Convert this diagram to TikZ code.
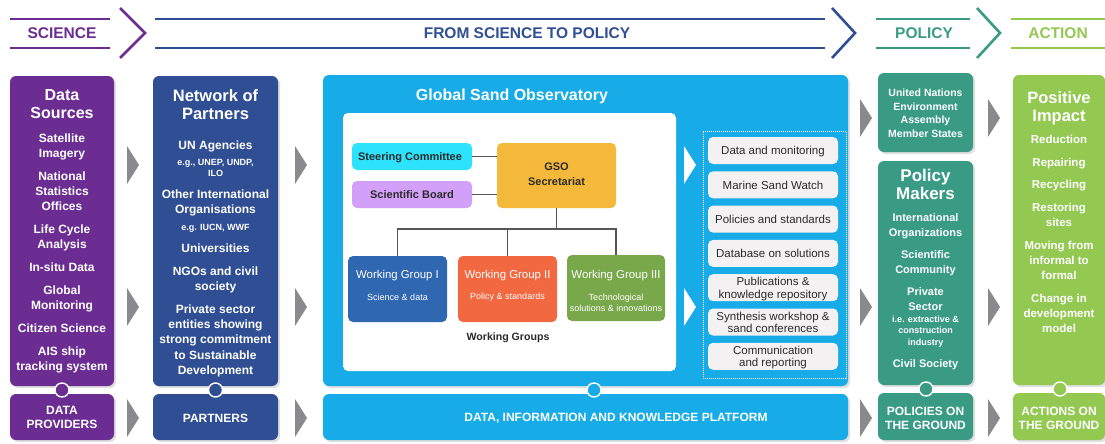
\documentclass[tikz,border=0pt]{standalone}
\usepackage{fontspec}
\setmainfont{Liberation Sans}
\usetikzlibrary{fit,shadows,positioning}

\definecolor{srcpurple}{HTML}{6B2D91}
\definecolor{netblue}{HTML}{2F4E93}
\definecolor{gsoblue}{HTML}{17ABE8}
\definecolor{polteal}{HTML}{3A9B85}
\definecolor{actgreen}{HTML}{93C851}
\definecolor{arrowgray}{HTML}{8A8A8D}
\definecolor{steercyan}{HTML}{2DE3FC}
\definecolor{boardlilac}{HTML}{D2A0F8}
\definecolor{secyellow}{HTML}{F4B93A}
\definecolor{wgone}{HTML}{2F67B1}
\definecolor{wgtwo}{HTML}{F26841}
\definecolor{wgthree}{HTML}{79A84B}
\definecolor{itemgray}{HTML}{F3F1F1}
\definecolor{linegray}{HTML}{555555}
\definecolor{darktext}{HTML}{2B2B2B}

\newcommand{\fsz}[2]{\fontsize{#1}{#2}\selectfont}

\tikzset{
  panel/.style={rounded corners=6pt, inner sep=0pt, fill=#1,
    drop shadow={shadow xshift=2pt, shadow yshift=-2pt, opacity=0.25}},
  ring/.style={circle, draw=white, line width=1.4pt, fill=#1, minimum size=14pt, inner sep=0pt},
  colhead/.style={anchor=north, inner sep=0pt, align=center, text=white, font=\bfseries\fsz{16.5}{18}},
  coltext/.style={anchor=north, inner sep=0pt, align=center, text=white, font=\bfseries\fsz{12}{15}},
  colsmall/.style={anchor=north, inner sep=0pt, align=center, text=white, font=\bfseries\fsz{9}{11}},
  baselabel/.style={anchor=north, inner sep=0pt, align=center, text=white, font=\bfseries\fsz{12}{14}},
  orgbox/.style={rounded corners=5pt, inner sep=0pt, fill=#1},
  orgtext/.style={anchor=north, inner sep=0pt, align=center, text=darktext, font=\bfseries\fsz{11}{15}},
  wgtitle/.style={inner sep=0pt, text=white, font=\fsz{11.4}{13}},
  wgsub/.style={inner sep=0pt, align=center, text=white, font=\fsz{9}{11}},
  itembox/.style={rounded corners=5pt, inner sep=0pt, fill=itemgray, minimum width=130pt, minimum height=27pt},
  itemtext/.style={anchor=north, inner sep=0pt, align=center, text=darktext, font=\fsz{11.5}{12.5}},
  headtext/.style={inner sep=0pt, text=#1, font=\bfseries\fsz{15.5}{18}},
  headline/.style={line width=2.6pt, draw=#1},
  orgline/.style={draw=linegray, line width=1.3pt}
}

\begin{document}
\begin{tikzpicture}[x=1pt, y=-1pt]
\useasboundingbox (0,0) rectangle (1105,444);
\fill[white] (0,0) rectangle (1105,444);

% header
\node (hsci) [headtext=srcpurple] at (62,33) {SCIENCE};
\node (hpath) [headtext=netblue] at (527,33) {FROM SCIENCE TO POLICY};
\node (hpol) [headtext=polteal] at (924,33) {POLICY};
\node (hact) [headtext=actgreen] at (1058,33) {ACTION};
\draw[headline=srcpurple] (10,19) -- (110,19) (10,48) -- (110,48);
\draw[headline=srcpurple] (120,8) -- (145,33) -- (120,58);
\draw[headline=netblue] (155,19) -- (825,19) (155,48) -- (825,48);
\draw[headline=netblue] (832,8) -- (855,33) -- (832,58);
\draw[headline=polteal] (876,19) -- (970,19) (876,48) -- (970,48);
\draw[headline=polteal] (977,8) -- (1000,33) -- (977,58);
\draw[headline=actgreen] (1011,19) -- (1105,19) (1011,48) -- (1105,48);

% grey arrows between the columns
\foreach \x/\y in {127/165, 127/307, 127/418, 295/165, 295/307, 295/418,
                   860/118, 860/307, 860/418, 988/118, 988/307, 988/418}
  \fill[arrowgray] (\x,\y-19) -- (\x+12,\y) -- (\x,\y+19) -- cycle;

% data sources
\node (src) [panel=srcpurple, fit={(10,76) (114,386)}] {};
\node (dshead) [colhead, font=\bfseries\fsz{16}{18}] at (62,89) {Data\\Sources};
\node (dsbody) [coltext] at (62,133.5) {Satellite\\Imagery\\[8pt]National\\Statistics\\Offices\\[8pt]Life Cycle\\Analysis\\[8pt]In-situ Data\\[8pt]Global\\Monitoring\\[8pt]Citizen Science\\[8pt]AIS ship\\tracking system};
\node (srcbot) [panel=srcpurple, fit={(10,394) (114,440)}] {};
\node (srclbl) [baselabel] at (62,406.5) {DATA\\PROVIDERS};
\node (srcring) [ring=srcpurple] at (62,390) {};

% network of partners
\node (net) [panel=netblue, fit={(153,76) (278,386)}] {};
\node (nethead) [colhead] at (215.5,89) {Network of\\Partners};
\node (net1) [coltext] at (215.5,140.5) {UN Agencies};
\node (net1s) [colsmall] at (215.5,158.7) {e.g., UNEP, UNDP,\\ILO};
\node (net2) [coltext, font=\bfseries\fsz{12}{15.5}] at (215.5,189.5) {Other International\\Organisations};
\node (net2s) [colsmall] at (215.5,223.7) {e.g. IUCN, WWF};
\node (net3) [coltext] at (215.5,243.5) {Universities};
\node (net4) [coltext] at (215.5,266.5) {NGOs and civil\\society};
\node (net5) [coltext, font=\bfseries\fsz{12}{15.25}] at (215.5,304.5) {Private sector\\entities showing\\strong commitment\\to Sustainable\\Development};
\node (netbot) [panel=netblue, fit={(153,394) (278,440)}] {};
\node (netlbl) [baselabel] at (215.5,413.5) {PARTNERS};
\node (netring) [ring=netblue] at (215.5,390) {};

% global sand observatory
\node (gso) [panel=gsoblue, fit={(323,75) (848,386)}] {};
\node (gsotitle) [inner sep=0pt, text=white, font=\bfseries\fsz{16}{18}] at (512,96) {Global Sand Observatory};
\node (orgchart) [fill=white, rounded corners=5pt, inner sep=0pt, fit={(343,113) (676,371)}] {};
\node (steer) [orgbox=steercyan, fit={(352,143) (472,170)}] {};
\node (board) [orgbox=boardlilac, fit={(352,181) (472,208)}] {};
\node (sec) [orgbox=secyellow, fit={(497,143) (616,208)}] {};
\node (steertxt) [orgtext] at (410,152.4) {Steering Committee};
\node (boardtxt) [orgtext] at (412,190.4) {Scientific Board};
\node (sectxt) [orgtext] at (556.5,162.9) {GSO\\Secretariat};
\node (wg1) [orgbox=wgone, fit={(348,256) (447,322)}] {};
\node (wg2) [orgbox=wgtwo, fit={(458,256) (557,322)}] {};
\node (wg3) [orgbox=wgthree, fit={(567,255) (665,321)}] {};
\node (wg1t) [wgtitle] at (397.5,275.5) {Working Group I};
\node (wg1s) [wgsub] at (397.5,297) {Science \& data};
\node (wg2t) [wgtitle] at (507.5,275.5) {Working Group II};
\node (wg2s) [wgsub] at (507.5,297) {Policy \& standards};
\node (wg3t) [wgtitle] at (616,275.5) {Working Group III};
\node (wg3s) [wgsub] at (616,302.5) {Technological\\solutions \& innovations};
\node (wglabel) [inner sep=0pt, text=darktext, font=\bfseries\fsz{10.6}{12}] at (508,338) {Working Groups};
\coordinate (bus) at (556.5,229);
\draw[orgline] (steer.east) -- (steer.east -| sec.west);
\draw[orgline] (board.east) -- (board.east -| sec.west);
\draw[orgline] (sec.south) -- (bus);
\draw[orgline] (wg1.north) |- (bus) -| (wg3.north);
\draw[orgline] (wg2.north) -- (wg2.north |- bus);

% outputs
\foreach \y in {165,307}
  \fill[white] (684,\y-19) -- (696,\y) -- (684,\y+19) -- cycle;
\node (outputs) [draw=white, densely dotted, line width=1pt, inner sep=0pt, fit={(703,131) (846,378)}] {};
\foreach \txt/\dy [count=\i] in {Data and monitoring/0, Marine Sand Watch/0, Policies and standards/0,
    Database on solutions/0, {Publications \&\\knowledge repository}/6.25,
    {Synthesis workshop \&\\sand conferences}/6.25, {Communication\\and reporting}/6.25}
{
  \node (item\i) [itembox] at (773,{116.2+34.3*\i}) {};
  \node (itemtxt\i) [itemtext] at (773,{116.2+34.3*\i-4.2-\dy}) {\txt};
}

\node (gsobot) [panel=gsoblue, fit={(323,394) (848,440)}] {};
\node (platform) [inner sep=0pt, text=white, font=\bfseries\fsz{12}{14}] at (616,418) {DATA, INFORMATION AND KNOWLEDGE PLATFORM};
\node (gsoring) [ring=gsoblue] at (594,390) {};

% policy makers
\node (unea) [panel=polteal, fit={(878,73) (973,152)}] {};
\node (uneatxt) [baselabel, font=\bfseries\fsz{10.5}{13.5}] at (925.5,89.1) {United Nations\\Environment\\Assembly\\Member States};
\node (pol) [panel=polteal, fit={(878,161) (973,385)}] {};
\node (polhead) [colhead, font=\bfseries\fsz{17}{18}] at (925.5,168.7) {Policy\\Makers};
\node (pol1) [coltext, font=\bfseries\fsz{11}{15}] at (925.5,213) {International\\Organizations};
\node (pol2) [coltext, font=\bfseries\fsz{11}{15}] at (925.5,250) {Scientific\\Community};
\node (pol3) [coltext, font=\bfseries\fsz{11}{15}] at (925.5,287) {Private\\Sector};
\node (pol3s) [colsmall, font=\bfseries\fsz{9}{11.5}] at (925.5,315.7) {i.e. extractive \&\\construction\\industry};
\node (pol4) [coltext, font=\bfseries\fsz{11}{15}] at (925.5,359) {Civil Society};
\node (polbot) [panel=polteal, fit={(878,393) (973,440)}] {};
\node (pollbl) [baselabel] at (925.5,406.5) {POLICIES ON\\THE GROUND};
\node (polring) [ring=polteal] at (926,389) {};

% positive impact
\node (act) [panel=actgreen, fit={(1013,75) (1105,385)}] {};
\node (acthead) [colhead] at (1059,91) {Positive\\Impact};
\node (actbody) [coltext, font=\bfseries\fsz{11.5}{15.3}] at (1059,134.7) {Reduction\\[7.5pt]Repairing\\[7pt]Recycling\\[7.5pt]Restoring\\sites\\[7.5pt]Moving from\\informal to\\formal\\[7pt]Change in\\development\\model};
\node (actbot) [panel=actgreen, fit={(1013,393) (1105,440)}] {};
\node (actlbl) [baselabel] at (1059,406.5) {ACTIONS ON\\THE GROUND};
\node (actring) [ring=actgreen] at (1060,389) {};
\end{tikzpicture}
\end{document}
